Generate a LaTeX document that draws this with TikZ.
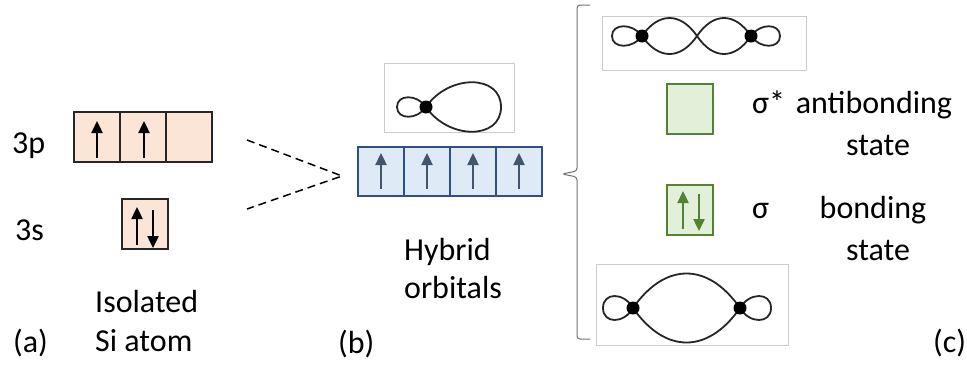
\documentclass[tikz,border=0pt]{standalone}
\usepackage{fontspec}
\setmainfont{Carlito}
\usepackage{tikz}
\usepackage{xcolor}
\usetikzlibrary{arrows.meta}
\definecolor{cellpeach}{HTML}{FBE5D6}
\definecolor{cellblue}{HTML}{DEEBF7}
\definecolor{edgeblue}{HTML}{2F4F86}
\definecolor{spinblue}{HTML}{44546A}
\definecolor{cellgreen}{HTML}{E2F0D9}
\definecolor{edgegreen}{HTML}{548235}
\newcommand{\orbcell}[4]{
	% box of one orbital
	\draw[fill=#3, draw=#4, line width=1.5] (#1,#2) rectangle ++(46,50);
}
\newcommand{\spinup}[4]{
	\draw[spin, #4] (#1,#3) -- (#1,#2);
}
\newcommand{\spindown}[4]{
	\draw[spin, #4] (#1,#2) -- (#1,#3);
}
\newcommand{\lobe}[4]{
	% posx posy length halfwidth
	\draw[orbit] (#1,#2) .. controls ({#1+0.3*(#3)},{#2-#4}) and ({#1+#3},{#2-#4}) .. ({#1+#3},#2)
		.. controls ({#1+#3},{#2+#4}) and ({#1+0.3*(#3)},{#2+#4}) .. (#1,#2);
}
\newcommand{\lens}[4]{
	% leftx rightx posy halfwidth
	\draw[orbit] (#1,#3) .. controls ({#1+0.3*(#2-#1)},{#3-#4}) and ({#2-0.3*(#2-#1)},{#3-#4}) .. (#2,#3)
		.. controls ({#2-0.3*(#2-#1)},{#3+#4}) and ({#1+0.3*(#2-#1)},{#3+#4}) .. (#1,#3);
}
\newcommand{\atom}[2]{
	\fill (#1,#2) circle (6.5);
}

\begin{document}
\begin{tikzpicture}[x=1pt, y=-1pt,
		every node/.style={font=\fontsize{32}{36}\selectfont, inner sep=0pt},
		spin/.style={line width=2.4, -{Triangle[width=11pt,length=12pt]}},
		orbit/.style={line width=1.8, black!85},
		frame/.style={draw=black!20, line width=1}]
	\useasboundingbox (0,0) rectangle (967,368);
	% (a) isolated atom
	\node[anchor=base west] (lblp) at (12,153) {3p};
	\node[anchor=base west] (lbls) at (15,240) {3s};
	\orbcell{74}{112}{cellpeach}{black!85}
	\orbcell{120}{112}{cellpeach}{black!85}
	\orbcell{166}{112}{cellpeach}{black!85}
	\spinup{97}{121}{158}{black}
	\spinup{144}{121}{158}{black}
	\orbcell{122}{199}{cellpeach}{black!85}
	\spinup{137}{207}{245}{black}
	\spindown{153}{210}{248}{black}
	\node[anchor=base west] (atomA) at (95,312) {Isolated};
	\node[anchor=base west] (atomB) at (95,351) {Si atom};
	\node[anchor=base west] (tagA) at (13,352) {(a)};
	%
	% (b) hybrids
	\coordinate (pend) at (247,140);
	\coordinate (send) at (247,209);
	\coordinate (meet) at (342,176);
	\draw[dashed, dash pattern=on 8pt off 5pt, line width=1.5] (pend) -- (meet) -- (send);
	\draw[frame] (384,63) rectangle (514,132);
	\lobe{426}{107}{-29}{13}
	\lobe{426}{107}{75}{33}
	\atom{426}{107}
	\foreach \x in {358,404,450,496}{
		\draw[fill=cellblue, draw=edgeblue, line width=1.5] (\x,147) rectangle ++(46,49);
		\spinup{\x+23}{153}{189}{spinblue}
	}
	\node[anchor=base west] (hybA) at (404,260) {Hybrid};
	\node[anchor=base west] (hybB) at (404,298) {orbitals};
	\node[anchor=base west] (tagB) at (338,353) {(b)};
	%
	% (c) bonds
	\draw[black!55, line width=1, rounded corners=3] (590,5) -- (577,5) -- (577,171) -- (562,174)
		-- (577,177) -- (577,339) -- (590,339);
	\draw[frame] (602,16) rectangle (806,70);
	\lobe{642}{36}{-30}{13}
	\lens{642}{697}{36}{24}
	\lens{697}{751}{36}{24}
	\lobe{751}{36}{29}{13}
	\atom{642}{36}
	\atom{751}{36}
	\draw[fill=cellgreen, draw=edgegreen, line width=1.5] (667,84) rectangle ++(46,50);
	\node[anchor=base west] (antiA) at (752,113) {σ*};
	\node[anchor=base] (antiB) at (874,113) {antibonding};
	\node[anchor=base] (antiC) at (878,155) {state};
	\draw[fill=cellgreen, draw=edgegreen, line width=1.5] (667,185) rectangle ++(46,50);
	\spinup{683}{191}{229}{edgegreen}
	\spindown{699}{194}{231}{edgegreen}
	\node[anchor=base west] (bondA) at (752,218) {σ};
	\node[anchor=base] (bondB) at (873,218) {bonding};
	\node[anchor=base] (bondC) at (878,260) {state};
	\draw[frame] (596,264) rectangle (788,345);
	\lobe{633}{308}{-30}{16}
	\lens{633}{740}{308}{46}
	\lobe{740}{308}{31}{16}
	\atom{633}{308}
	\atom{740}{308}
	\node[anchor=base west] (tagC) at (933,352) {(c)};
\end{tikzpicture}
\end{document}
